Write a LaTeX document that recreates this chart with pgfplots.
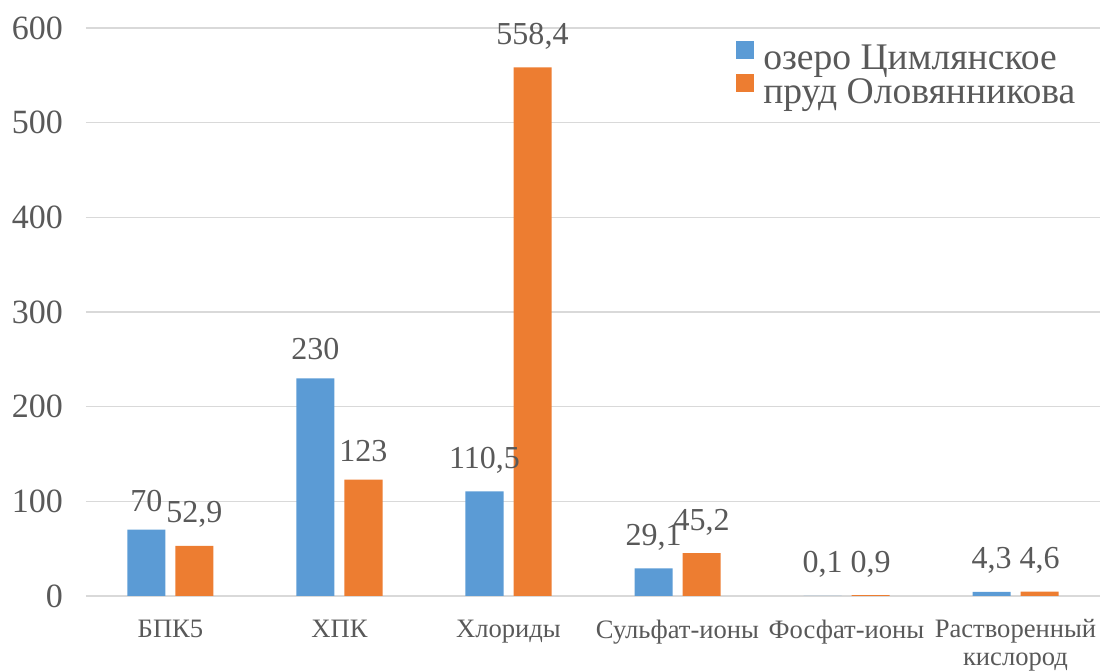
\documentclass[border=0pt]{standalone}
\usepackage{pgfplots}
\pgfplotsset{compat=1.18}
\usepackage{fontspec}
\setmainfont{Liberation Serif}
\definecolor{cblue}{HTML}{5B9BD5}
\definecolor{corange}{HTML}{ED7D31}
\definecolor{ctext}{HTML}{595959}
\definecolor{cgrid}{HTML}{D9D9D9}
\begin{document}
\begin{tikzpicture}
\begin{axis}[
  name=ax, at={(0pt,0pt)}, anchor=south west,
  width=507pt, height=284pt, scale only axis,
  ymin=0, ymax=600, xmin=-0.5, xmax=5.5,
  ytick={0,100,...,600}, ymajorgrids,
  grid style={cgrid, line width=0.8pt},
  axis line style={draw=none}, tick style={draw=none},
  xtick={0,...,5},
  xticklabels={БПК5,ХПК,Хлориды,Сульфат-ионы,Фосфат-ионы,{Растворенный\\кислород}},
  xticklabel style={font=\fontsize{13.3}{14}\selectfont, text=ctext, align=center, anchor=north, yshift=-4pt},
  yticklabel style={font=\fontsize{17}{20}\selectfont, text=ctext, xshift=-8pt},
  /pgf/number format/assume math mode=true,
  ybar=5pt, bar width=19pt,
  clip=false,
  nodes near coords, point meta=explicit symbolic,
  nodes near coords style={font=\fontsize{16}{19}\selectfont, text=ctext, yshift=5.5pt},
  legend style={at={(0.635,0.985)}, anchor=north west, draw=none, fill=none,
    font=\fontsize{18.8}{21}\selectfont, text=ctext, row sep=-1.3pt,
    nodes={inner xsep=4.5pt}},
  legend cell align=left,
  legend image code/.code={\fill[#1] (0pt,0pt) rectangle (9pt,9pt);},
]
\addplot[fill=cblue, draw=none] coordinates {
  (0,70) [70] (1,230) [230] (2,110.5) [{110,5}] (3,29.1) [{29,1}] (4,0.1) [{0,1}] (5,4.3) [{4,3}]};
\addplot[fill=corange, draw=none] coordinates {
  (0,52.9) [{52,9}] (1,123) [123] (2,558.4) [{558,4}] (3,45.2) [{45,2}] (4,0.9) [{0,9}] (5,4.6) [{4,6}]};
\legend{озеро Цимлянское, пруд Оловянникова}
\end{axis}
\pgfresetboundingbox
\path[use as bounding box] ([shift={(-43pt,-37.5pt)}]ax.south west) rectangle ([shift={(0pt,14pt)}]ax.north east);
\end{tikzpicture}
\end{document}
